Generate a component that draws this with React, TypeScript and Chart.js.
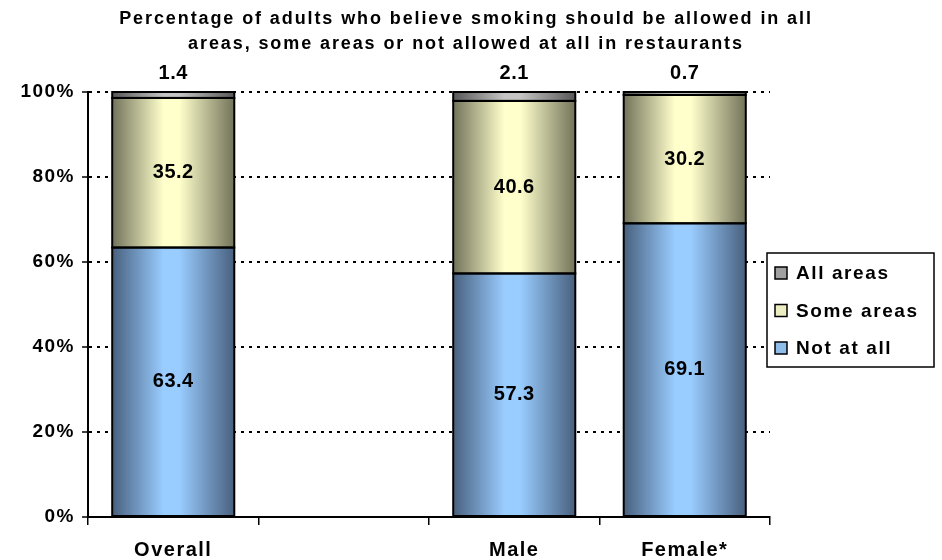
import React, { useEffect, useRef } from "react";
import { Chart, registerables } from "chart.js";
Chart.register(...registerables);

const categories = ["Overall", "", "Male", "Female*"];
const notAtAll = [63.4, null, 57.3, 69.1];
const someAreas = [35.2, null, 40.6, 30.2];
const allAreas = [1.4, null, 2.1, 0.7];
const seriesNames = ["Not at all", "Some areas", "All areas"];
const titleLines = [
  "Percentage of adults who believe smoking should be allowed in all",
  "areas, some areas or not allowed at all in restaurants",
];
const legendOrder = ["All areas", "Some areas", "Not at all"];

const BAR_FRAC = 0.716;
const FONT = "'Liberation Sans', Arial, sans-serif";

const palette: Record<string, { dark: string; light: string; swatch: string }> = {
  "Not at all": { dark: "#48607E", light: "#99CCFF", swatch: "#8EBCEB" },
  "Some areas": { dark: "#72735A", light: "#FFFFCC", swatch: "#EDEDC2" },
  "All areas": { dark: "#575757", light: "#C4C4C4", swatch: "#A0A0A0" },
};

function gradientFill(name: string) {
  const { dark, light } = palette[name];
  return (ctx: any) => {
    const chart = ctx.chart;
    const xs = chart.scales && chart.scales.x;
    if (!chart.chartArea || !xs || ctx.dataIndex == null) return light;
    const c = xs.getPixelForValue(ctx.dataIndex);
    const w = (xs.width / categories.length) * BAR_FRAC;
    const g = chart.ctx.createLinearGradient(c - w / 2, 0, c + w / 2, 0);
    g.addColorStop(0, dark);
    g.addColorStop(0.42, light);
    g.addColorStop(0.55, light);
    g.addColorStop(1, dark);
    return g;
  };
}

const spacingPlugin = {
  id: "spacing",
  beforeDraw(chart: any) {
    (chart.ctx as any).letterSpacing = "1.5px";
  },
};

const labelPlugin = {
  id: "valueLabels",
  afterDatasetsDraw(chart: any) {
    const ctx = chart.ctx;
    ctx.save();
    // borders
    ctx.strokeStyle = "#000";
    ctx.lineWidth = 2;
    chart.data.datasets.forEach((ds: any, di: number) => {
      const meta = chart.getDatasetMeta(di);
      meta.data.forEach((el: any, i: number) => {
        if (ds.data[i] == null) return;
        const { x, y, base, width } = el.getProps(["x", "y", "base", "width"], true);
        ctx.strokeRect(x - width / 2, Math.min(y, base), width, Math.abs(base - y));
      });
    });
    // labels
    ctx.fillStyle = "#000";
    ctx.font = `bold 20px ${FONT}`;
    ctx.textAlign = "center";
    (ctx as any).letterSpacing = "0.5px";
    chart.data.datasets.forEach((ds: any, di: number) => {
      const meta = chart.getDatasetMeta(di);
      meta.data.forEach((el: any, i: number) => {
        const v = ds.data[i];
        if (v == null) return;
        const { x, y, base } = el.getProps(["x", "y", "base"], true);
        if (di === 2) {
          ctx.textBaseline = "alphabetic";
          ctx.fillText(v.toFixed(1), x, y - 13);
        } else {
          ctx.textBaseline = "middle";
          ctx.fillText(v.toFixed(1), x, (y + base) / 2);
        }
      });
    });
    ctx.restore();
  },
};

const decorPlugin = {
  id: "decor",
  afterDraw(chart: any) {
    const ctx = chart.ctx;
    ctx.save();
    // title
    ctx.fillStyle = "#000";
    ctx.font = `bold 18px ${FONT}`;
    ctx.textAlign = "center";
    ctx.textBaseline = "alphabetic";
    (ctx as any).letterSpacing = "1.9px";
    ctx.fillText(titleLines[0], 466, 24);
    ctx.fillText(titleLines[1], 466, 49);
    // legend
    const bx = 767, by = 253, bw = 167, bh = 114;
    ctx.fillStyle = "#fff";
    ctx.fillRect(bx, by, bw, bh);
    ctx.strokeStyle = "#000";
    ctx.lineWidth = 1.5;
    ctx.strokeRect(bx, by, bw, bh);
    ctx.font = `bold 19px ${FONT}`;
    ctx.textAlign = "left";
    ctx.textBaseline = "middle";
    (ctx as any).letterSpacing = "1.6px";
    legendOrder.forEach((name, i) => {
      const cy = 273 + i * 37.5;
      ctx.fillStyle = palette[name].swatch;
      ctx.fillRect(775, cy - 6, 12, 12);
      ctx.strokeStyle = "#000";
      ctx.lineWidth = 1.5;
      ctx.strokeRect(775, cy - 6, 12, 12);
      ctx.fillStyle = "#000";
      ctx.fillText(name, 796, cy + 1);
    });
    ctx.restore();
  },
};

export default function App() {
  const ref = useRef<HTMLCanvasElement | null>(null);
  useEffect(() => {
    document.body.style.margin = "0";
    const canvas = ref.current;
    if (!canvas) return;
    const datasets = [notAtAll, someAreas, allAreas].map((d, i) => ({
      label: seriesNames[i],
      data: d,
      backgroundColor: gradientFill(seriesNames[i]),
      borderWidth: 0,
      categoryPercentage: 1,
      barPercentage: BAR_FRAC,
    }));
    const chart = new Chart(canvas, {
      type: "bar",
      data: { labels: categories, datasets },
      options: {
        animation: false,
        responsive: true,
        maintainAspectRatio: false,
        layout: { padding: { left: 0, right: 172, top: 92, bottom: 0 } },
        plugins: {
          legend: { display: false },
          title: { display: false },
          tooltip: { enabled: false },
        },
        scales: {
          x: {
            stacked: true,
            afterFit: (s: any) => { s.height = 43; },
            grid: {
              display: true,
              drawOnChartArea: false,
              offset: true,
              color: "#000",
              lineWidth: 1.5,
              tickLength: 8,
            },
            border: { display: true, color: "#000", width: 2 },
            ticks: {
              color: "#000",
              padding: 13,
              font: { family: FONT, size: 20, weight: "bold" },
              maxRotation: 0,
            },
          },
          y: {
            stacked: true,
            min: 0,
            max: 100,
            afterFit: (s: any) => { s.width = 88; },
            grid: {
              color: (c: any) => (c.tick && c.tick.value === 0 ? "rgba(0,0,0,0)" : "#000"),
              lineWidth: 2,
              tickColor: "#000",
              tickLength: 6,
              tickWidth: 1.5,
              tickBorderDash: [],
            },
            border: { display: true, color: "#000", width: 2, dash: [3, 5] },
            ticks: {
              stepSize: 20,
              color: "#000",
              padding: 7,
              font: { family: FONT, size: 19, weight: "bold" },
              callback: (v: any) => `${v}%`,
            },
          },
        },
      },
      plugins: [spacingPlugin, labelPlugin, decorPlugin],
    });
    return () => chart.destroy();
  }, []);
  return (
    <div style={{ width: 942, height: 560, position: "relative" }}>
      <canvas ref={ref} />
    </div>
  );
}
